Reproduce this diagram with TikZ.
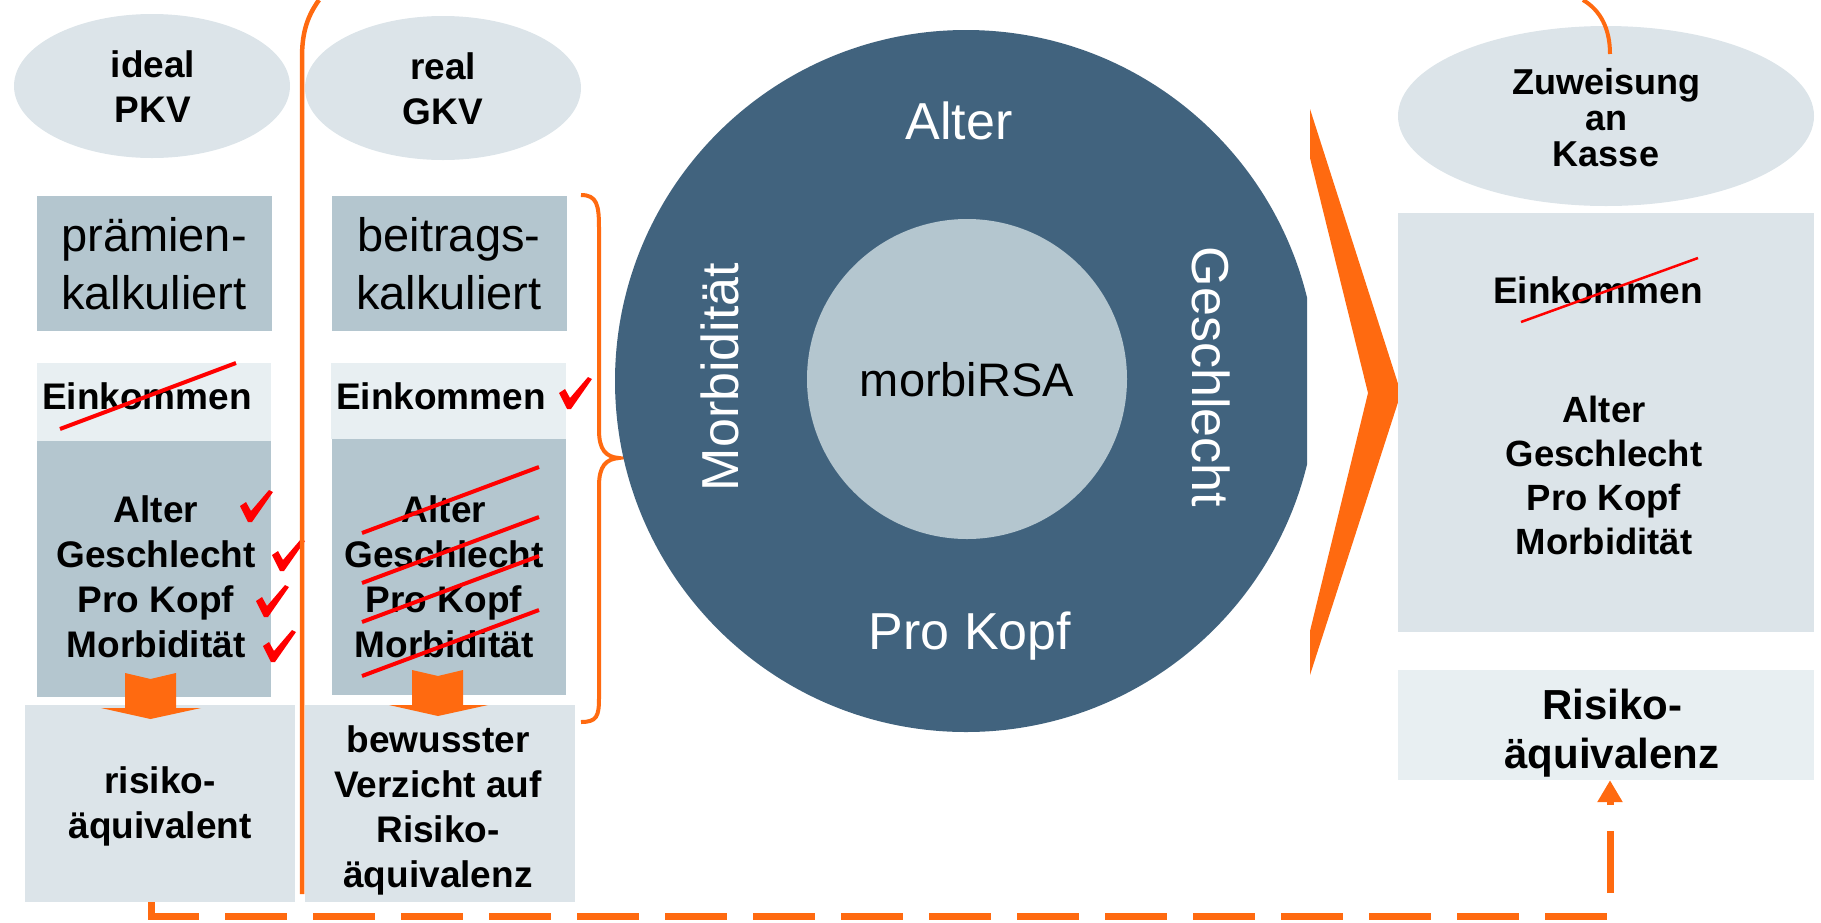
\documentclass[tikz,border=0pt]{standalone}
\usepackage{fontspec}
\setmainfont{Liberation Sans}
\usetikzlibrary{shapes.geometric,arrows.meta}
\definecolor{ellc}{HTML}{DCE4E9}
\definecolor{boxdark}{HTML}{B4C6CF}
\definecolor{boxlight}{HTML}{E8EFF2}
\definecolor{boxmid}{HTML}{DCE4E9}
\definecolor{circdark}{HTML}{41637E}
\definecolor{orng}{HTML}{FF6A10}
\newcommand\chkm[2]{\fill[red,shift={(#1,#2)}] (0,16) -- (6,12) -- (11,21) -- (29,0) -- (33,2) -- (12,32) -- (8,32) -- cycle;}
\begin{document}
\begin{tikzpicture}[x=1pt,y=-1pt,
  ell/.style={ellipse, fill=ellc, inner sep=0},
  bx/.style={rectangle, inner sep=0, draw=none},
  txt/.style={inner sep=0, align=center, font=\bfseries\fontsize{37}{45}\selectfont},
  bigtxt/.style={inner sep=0, align=center, font=\fontsize{47}{58}\selectfont},
  wtxt/.style={inner sep=0, text=white, font=\fontsize{52}{60}\selectfont},
  strike/.style={red, line width=4pt},
  oline/.style={orng, line width=4.5pt},
  dashline/.style={orng, line width=7pt, dash pattern=on 62pt off 26pt},
  downarrow/.style={fill=orng}
]
\useasboundingbox (0,0) rectangle (1821,922);

% ellipses
\node[ell, minimum width=276, minimum height=144] (pkv) at (152,86) {};
\node[txt] (pkvt) at (153,87) {ideal\\PKV};
\node[ell, minimum width=276, minimum height=144] (gkv) at (443,88) {};
\node[txt] (gkvt) at (443,89) {real\\GKV};

% top boxes
\node[bx, fill=boxdark, minimum width=235, minimum height=135] (praem) at (154.5,263.5) {};
\node[bigtxt] (praemt) at (154,264) {prämien-\\kalkuliert};
\node[bx, fill=boxdark, minimum width=235, minimum height=135] (beitr) at (449.5,263.5) {};
\node[bigtxt] (beitrt) at (449,264) {beitrags-\\kalkuliert};

% Einkommen boxes
\node[bx, fill=boxlight, minimum width=234, minimum height=78] (einp) at (154,402) {};
\node[txt] (einpt) at (147,396) {Einkommen};
\node[bx, fill=boxlight, minimum width=235, minimum height=76] (eing) at (448.5,401) {};
\node[txt] (eingt) at (441,396) {Einkommen};

% dark criteria boxes
\node[bx, fill=boxdark, minimum width=234, minimum height=256] (critp) at (154,569) {};
\node[txt] (critpt) at (156,577) {Alter\\Geschlecht\\Pro Kopf\\Morbidität};
\node[bx, fill=boxdark, minimum width=234, minimum height=256] (critg) at (449,567) {};
\node[txt] (critgt) at (444,577) {Alter\\Geschlecht\\Pro Kopf\\Morbidität};

% bottom boxes
\node[bx, fill=boxmid, minimum width=270, minimum height=197] (botp) at (160,803.5) {};
\node[txt] (botpt) at (160,806) {risiko-\\äquivalent};
\node[bx, fill=boxmid, minimum width=270, minimum height=197] (botg) at (440,803.5) {};
\node[txt] (botgt) at (438,810) {bewusster\\Verzicht auf\\Risiko-\\äquivalenz};

% orange down arrows
\fill[downarrow] (125,673) -- (150.5,679) -- (176,673) -- (176,708) -- (201,708) -- (150.5,719) -- (101,708) -- (125,708) -- cycle;
\fill[downarrow] (412,670) -- (438,676) -- (463,670) -- (463,705) -- (488,705) -- (438,716) -- (389,705) -- (412,705) -- cycle;

% strikes
\draw[strike] (60,429) -- (236,363);
\draw[strike] (362,533) -- (539,467);
\draw[strike] (362,583) -- (539,517);
\draw[strike] (362,622) -- (539,556);
\draw[strike] (362,676) -- (539,610);

% check marks
\chkm{240}{490}
\chkm{272}{539}
\chkm{256}{585}
\chkm{263}{630}
\chkm{559}{377}

% vertical orange divider
\coordinate (vtop) at (319,0);
\coordinate (vbot) at (302,894);
\draw[oline] (vtop) .. controls (306,18) and (302,35) .. (302,58) -- (vbot);

% brace
\coordinate (brt) at (581,195);
\coordinate (brb) at (581,722);
\draw[oline, line width=4pt] (brt) .. controls (597,195) and (599,205) .. (599,228) -- (599,430)
  .. controls (599,450) and (606,457) .. (619,458)
  .. controls (606,459) and (599,466) .. (599,486) -- (599,698)
  .. controls (599,716) and (597,722) .. (brb);

% big circle
\begin{scope}
\clip (0,0) rectangle (1307,922);
\node[circle, fill=circdark, inner sep=0, minimum size=702] (rsa) at (966,381) {};
\end{scope}
\node[circle, fill=boxdark, inner sep=0, minimum size=320] (rsain) at (967,379) {};
\node[inner sep=0, font=\fontsize{47}{56}\selectfont] (rsat) at (967,380) {morbiRSA};
\node[wtxt] (calter) at (959,121) {Alter};
\node[wtxt] (cpro) at (970,636) {Pro Kopf};
\node[wtxt, rotate=90] (cmorb) at (720,377) {Morbidität};
\node[wtxt, rotate=-90] (cgesch) at (1211,377) {Geschlecht};

% chevron
\fill[orng] (1310,109) -- (1401,393) -- (1310,675) -- (1310,631) -- (1368,393) -- (1310,158) -- cycle;

% right side
\node[ell, minimum width=416, minimum height=180] (zuw) at (1606,116) {};
\node[txt, font=\bfseries\fontsize{36}{36}\selectfont] (zuwt) at (1606,118) {Zuweisung\\an\\Kasse};
\node[bx, fill=boxmid, minimum width=416, minimum height=419] (rbox) at (1606,422.5) {};
\node[txt] (reint) at (1598,290) {Einkommen};
\draw[red, line width=2.5pt] (1521,322) -- (1698,258);
\node[txt, font=\bfseries\fontsize{36.5}{44}\selectfont] (rcrit) at (1604,475) {Alter\\Geschlecht\\Pro Kopf\\Morbidität};
\node[bx, fill=boxlight, minimum width=416, minimum height=110] (risk) at (1606,725) {};
\node[txt, font=\bfseries\fontsize{42}{49}\selectfont] (riskt) at (1612,733) {Risiko-\\äquivalenz};

% top right orange curve
\coordinate (rtop) at (1583,0);
\coordinate (rbot) at (1610,54);
\draw[oline, line width=4pt] (rtop) .. controls (1600,10) and (1610,28) .. (rbot);

% dashed feedback line
\coordinate (dstart) at (151,902);
\coordinate (dcol) at (1610,0);
\draw[dashline, -{Triangle[width=24pt,length=22pt]}] (dstart) -- ++(0,14) -| (risk.south -| dcol);
\end{tikzpicture}
\end{document}
